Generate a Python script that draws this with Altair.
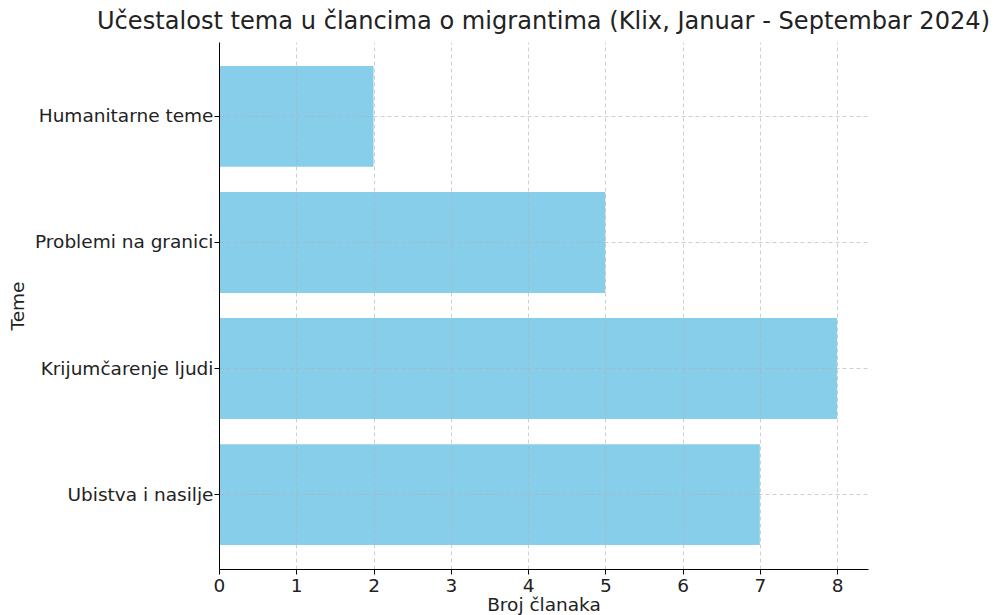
import altair as alt
import pandas as pd

teme = ["Humanitarne teme", "Problemi na granici", "Krijumčarenje ljudi", "Ubistva i nasilje"]
broj = [2, 5, 8, 7]

df = pd.DataFrame({"Teme": teme, "Broj": broj})

FONT = "DejaVu Sans"

chart = alt.Chart(df).mark_bar(color="#87CEEB").encode(
    x=alt.X("Broj:Q", title="Broj članaka",
            scale=alt.Scale(domain=[0, 8.4], nice=False, zero=True),
            axis=alt.Axis(values=[0, 1, 2, 3, 4, 5, 6, 7, 8], format="d",
                          grid=True, gridDash=[4, 3], gridColor="#b0b0b0", gridOpacity=0.6,
                          domainColor="#000000", tickColor="#000000", tickSize=5,
                          labelFontSize=18.5, titleFontSize=18.5, labelColor="#222222",
                          titleColor="#222222", labelFont=FONT, titleFont=FONT,
                          labelPadding=2, titlePadding=1, titleFontWeight="normal",
                          zindex=1, labelFlush=False)),
    y=alt.Y("Teme:N", title="Teme", sort=teme,
            scale=alt.Scale(paddingInner=0.2, paddingOuter=0.19),
            axis=alt.Axis(grid=True, gridDash=[4, 3], gridColor="#b0b0b0", gridOpacity=0.6,
                          bandPosition=0.5,
                          domainColor="#000000", tickColor="#000000", tickSize=5,
                          labelFontSize=18.5, titleFontSize=18.5, labelColor="#222222",
                          titleColor="#222222", labelFont=FONT, titleFont=FONT,
                          labelPadding=1, titlePadding=7, titleFontWeight="normal",
                          zindex=1)),
).properties(
    width=649,
    height=527,
    title=alt.TitleParams("Učestalost tema u člancima o migrantima (Klix, Januar - Septembar 2024)",
                          font=FONT, fontSize=24.1, fontWeight="normal", color="#222222",
                          anchor="middle", offset=8),
    autosize=alt.AutoSizeParams(type="none"),
    padding={"left": 211, "top": 34, "right": 127, "bottom": 50},
).configure_view(stroke=None).configure_axisX(domain=True).configure_axisY(domain=True)

chart.save("out.html", embed_options={"renderer": "svg", "actions": False})
